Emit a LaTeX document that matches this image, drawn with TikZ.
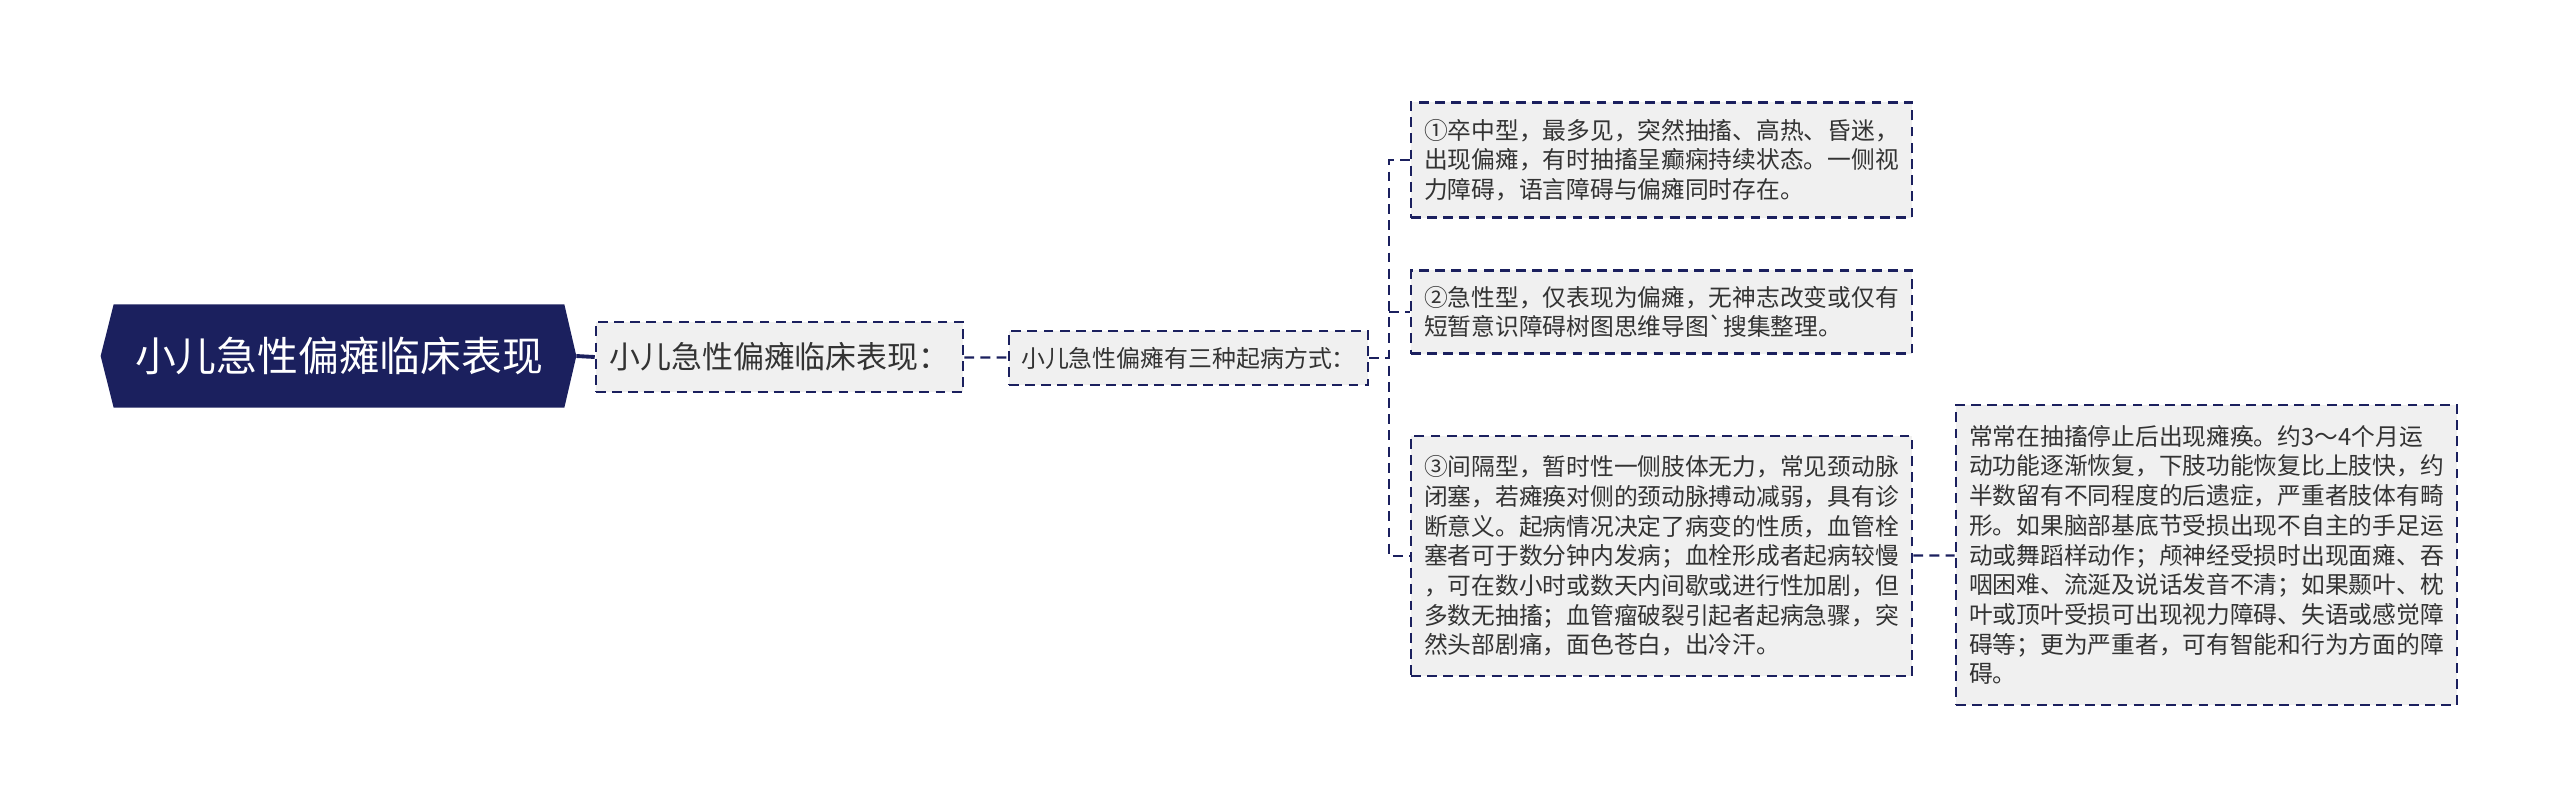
\documentclass[tikz,border=0pt]{standalone}
\usepackage{fontspec}
\setmainfont{Noto Sans CJK SC}
\usepackage{xcolor}
\usepackage{tikz}
\usetikzlibrary{backgrounds}

\definecolor{navy}{RGB}{27,32,94}
\definecolor{boxgray}{RGB}{240,240,240}
\definecolor{txtgray}{RGB}{51,51,51}

\begin{document}
\begin{tikzpicture}[x=0.01cm, y=-0.01cm,
      box/.style={draw=navy, fill=boxgray, line width=0.65pt,
                  dash pattern=on 2.8pt off 1.8pt, text=txtgray,
                  inner xsep=0.12cm, inner ysep=0cm},
      leafbox/.style={box, align=left, minimum width=5.01cm,
                  font=\fontsize{6.75}{8.45}\selectfont},
      link/.style={draw=navy, line width=0.65pt, dash pattern=on 2.8pt off 1.8pt}
    ]
      \path[use as bounding box] (0,0) rectangle (2560,808);

      % root
      \node[text=white, minimum width=4.49cm, minimum height=1.02cm, inner sep=0pt,
            font=\fontsize{11.6}{14}\selectfont] (root) at (339,356) {小儿急性偏瘫临床表现};
      \begin{scope}[on background layer]
        \fill[navy] (root.north west) -- (root.north east) -- ([xshift=0.12cm]root.east)
          -- (root.south east) -- (root.south west) -- ([xshift=-0.13cm]root.west) -- cycle;
      \end{scope}

      % second level
      \node[box, minimum width=3.67cm, minimum height=0.70cm,
            font=\fontsize{8.8}{10}\selectfont] (signs) at (779.5,357) {小儿急性偏瘫临床表现：};
      \node[box, minimum width=3.59cm, minimum height=0.54cm,
            font=\fontsize{6.8}{8}\selectfont] (onset) at (1188.5,358) {小儿急性偏瘫有三种起病方式：};
      \coordinate (fork) at (1389,358);

      % leaves
      \node[leafbox, minimum height=1.15cm] (stroke) at (1661.5,160)
        {①卒中型，最多见，突然抽搐、高热、昏迷，\\
         出现偏瘫，有时抽搐呈癫痫持续状态。一侧视\\
         力障碍，语言障碍与偏瘫同时存在。};
      \node[leafbox, minimum height=0.83cm] (acute) at (1661.5,312)
        {②急性型，仅表现为偏瘫，无神志改变或仅有\\
         短暂意识障碍树图思维导图\textasciigrave 搜集整理。};
      \node[leafbox, minimum height=2.40cm] (interval) at (1661.5,556)
        {③间隔型，暂时性一侧肢体无力，常见颈动脉\\
         闭塞，若瘫痪对侧的颈动脉搏动减弱，具有诊\\
         断意义。起病情况决定了病变的性质，血管栓\\
         塞者可于数分钟内发病；血栓形成者起病较慢\\
         ，可在数小时或数天内间歇或进行性加剧，但\\
         多数无抽搐；血管瘤破裂引起者起病急骤，突\\
         然头部剧痛，面色苍白，出冷汗。};
      \node[leafbox, minimum height=3.00cm] (sequel) at (2206.5,555)
        {常常在抽搐停止后出现瘫痪。约3～4个月运\\
         动功能逐渐恢复，下肢功能恢复比上肢快，约\\
         半数留有不同程度的后遗症，严重者肢体有畸\\
         形。如果脑部基底节受损出现不自主的手足运\\
         动或舞蹈样动作；颅神经受损时出现面瘫、吞\\
         咽困难、流涎及说话发音不清；如果颞叶、枕\\
         叶或顶叶受损可出现视力障碍、失语或感觉障\\
         碍等；更为严重者，可有智能和行为方面的障\\
         碍。};

      % links
      \draw[navy, line width=1.1pt] ([xshift=0.12cm]root.east) -- (signs.west);
      \draw[link] (signs) -- (onset);
      \draw[link] (onset) -- (fork);
      \draw[link] (stroke.west) -| (fork) |- (interval.west);
      \draw[link] (fork |- acute.west) -- (acute.west);
      \draw[link] (interval) -- (sequel);
    \end{tikzpicture}
\end{document}
